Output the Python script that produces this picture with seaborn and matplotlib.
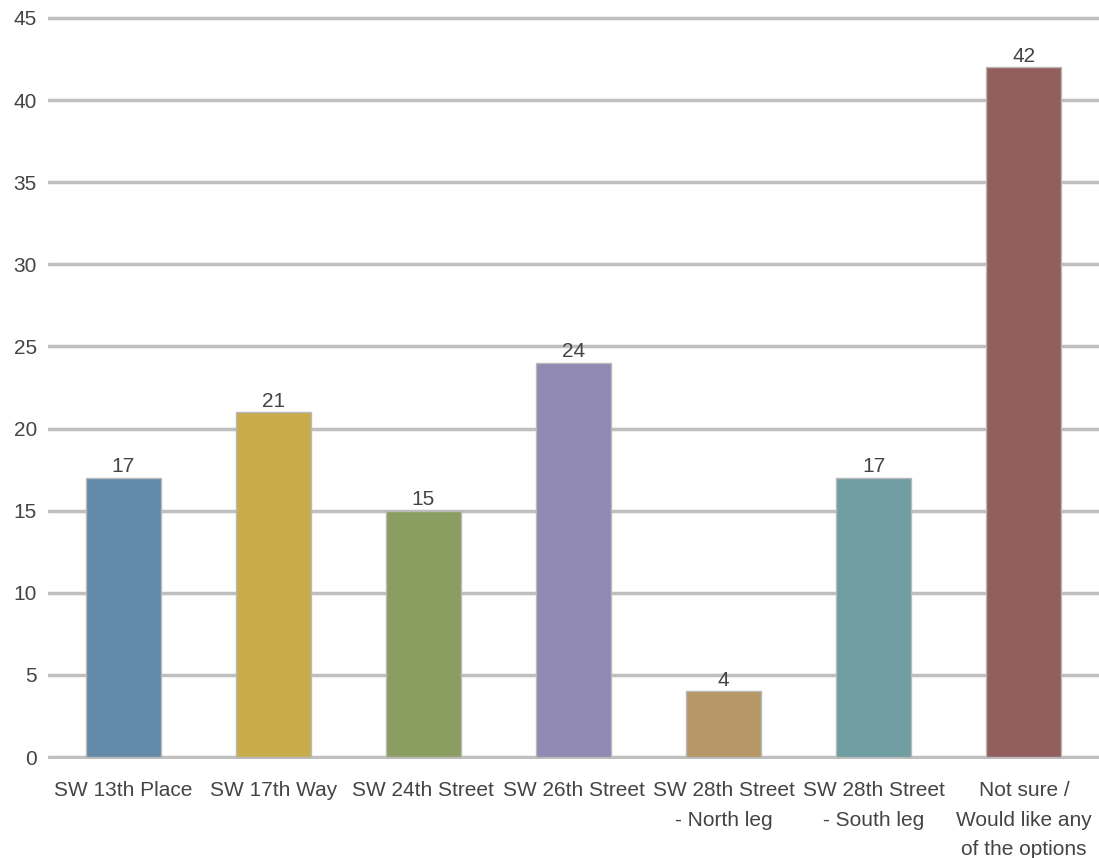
import matplotlib
matplotlib.use('Agg')
import matplotlib.pyplot as plt
import seaborn as sns
import pandas as pd

categories = ['SW 13th Place', 'SW 17th Way', 'SW 24th Street', 'SW 26th Street',
              'SW 28th Street\n- North leg', 'SW 28th Street\n- South leg',
              'Not sure /\nWould like any\nof the options']
counts = [17, 21, 15, 24, 4, 17, 42]
colors = ['#6389a8', '#c8ac4c', '#8a9e62', '#8f89b3', '#b59866', '#6f9da2', '#925e5e']

sns.set_style('white')
plt.rcParams['font.family'] = ['Liberation Sans', 'DejaVu Sans']

df = pd.DataFrame({'option': categories, 'count': counts})

fig = plt.figure(figsize=(10.99, 8.58), dpi=100)
ax = fig.add_axes([0.0437, 0.1154, 0.9563, 0.866])

sns.barplot(data=df, x='option', y='count', hue='option', palette=colors,
            width=0.5, saturation=1, legend=False, ax=ax,
            edgecolor='#b8b8b8', linewidth=1)

for c in ax.containers:
    ax.bar_label(c, fontsize=15, color='#444444', padding=1)

# a little room so the 0 and 45 grid lines are not cut in half
ax.set_ylim(-0.12, 45.12)
ax.set_xlim(-0.5, 6.5)
ax.set_yticks(range(0, 46, 5))
ax.yaxis.grid(True, color='#bfbfbf', linewidth=2.5)
ax.set_axisbelow(True)
ax.set_xlabel('')
ax.set_ylabel('')
for s in ax.spines.values():
    s.set_visible(False)
ax.tick_params(axis='both', length=0, labelsize=15, labelcolor='#444444')
ax.tick_params(axis='y', pad=8)
ax.tick_params(axis='x', pad=16)
for t in ax.get_xticklabels():
    t.set_linespacing(1.7)

fig.savefig('out.png', dpi=100)
